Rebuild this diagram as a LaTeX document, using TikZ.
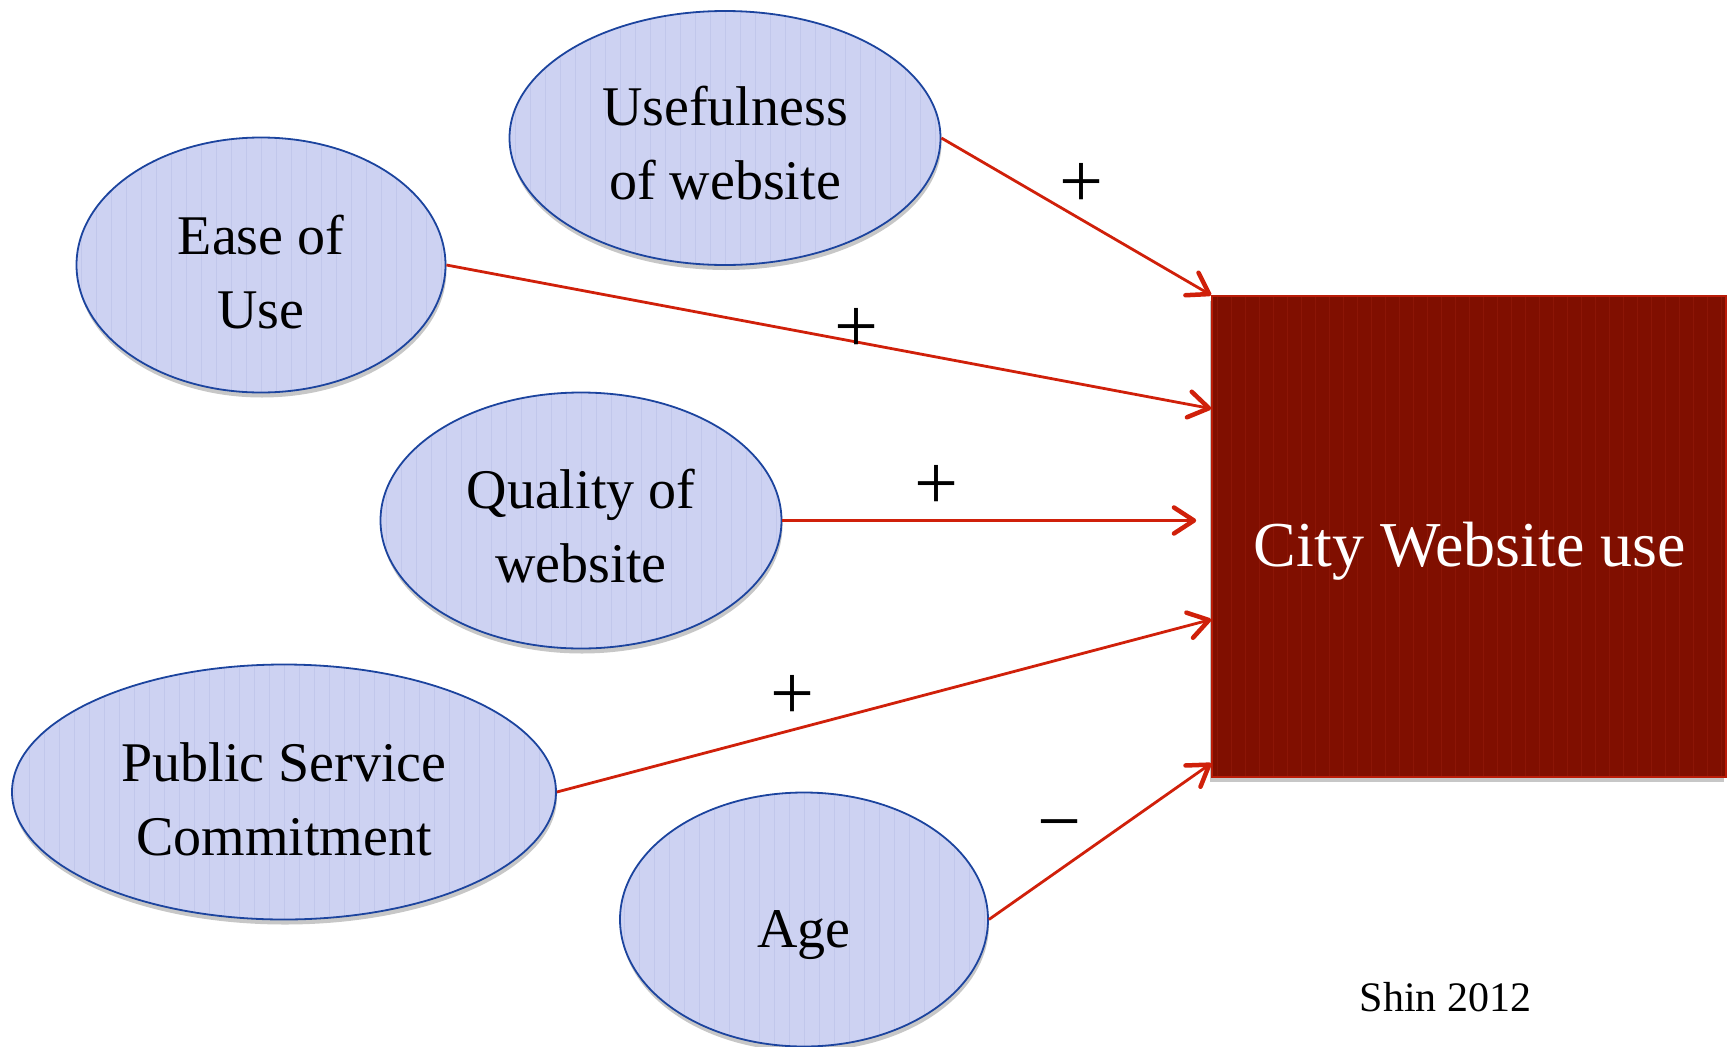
\documentclass[tikz,border=0pt]{standalone}
\usepackage{fontspec}
\setmainfont{Liberation Serif}
\usetikzlibrary{shapes.geometric, arrows.meta, shadows, calc}

\definecolor{ellfill}{RGB}{205,210,242}
\definecolor{ellstripe}{RGB}{193,199,235}
\definecolor{elldraw}{RGB}{28,68,158}
\definecolor{boxfill}{RGB}{128,15,0}
\definecolor{boxstripe}{RGB}{140,22,6}
\definecolor{boxdraw}{RGB}{185,28,8}
\definecolor{arrowred}{RGB}{208,32,10}

\tikzset{
  softshadow/.style={drop shadow={shadow xshift=1pt, shadow yshift=-5pt, opacity=0.22, fill=black}},
  ell/.style={ellipse, draw=elldraw, line width=1.8pt, fill=ellfill, inner sep=0pt,
    softshadow,
    path picture={
      \foreach \k in {-20,...,20}
        \draw[ellstripe, line width=1pt]
          ([xshift=\k*15pt]path picture bounding box.south) --
          ([xshift=\k*15pt]path picture bounding box.north);
    }},
  elltext/.style={align=center, font=\fontsize{56}{74}\selectfont, inner sep=0pt},
  citybox/.style={rectangle, draw=boxdraw, line width=1.6pt, fill=boxfill, inner sep=0pt,
    drop shadow={shadow xshift=-2pt, shadow yshift=-5pt, opacity=0.22, fill=black},
    path picture={
      \foreach \k in {-18,...,18}
        \draw[boxstripe, line width=0.9pt]
          ([xshift=\k*14pt]path picture bounding box.south) --
          ([xshift=\k*14pt]path picture bounding box.north);
    }},
  boxtext/.style={text=white, font=\fontsize{64}{76}\selectfont, inner sep=0pt},
  sign/.style={font=\fontsize{78}{80}\selectfont, inner sep=0pt, text height=0.5em, text depth=0pt},
  conn/.style={draw=arrowred, line width=2.8pt,
    -{Straight Barb[length=20pt, width=26pt, line width=4.5pt, round]}},
}

\begin{document}
\begin{tikzpicture}[x=1pt, y=-1pt]
\path[use as bounding box] (0,0) rectangle (1733,1047);

% outcome box
\node[citybox, minimum width=514pt, minimum height=481pt] (city) at (1469,536.5) {};
\node[boxtext, anchor=base] (citytext) at (1470,566) {City Website use};

% predictors
\node[ell, minimum width=431pt, minimum height=254pt] (use) at (725,138) {};
\node[ell, minimum width=369pt, minimum height=255pt] (ease) at (261,265) {};
\node[ell, minimum width=401pt, minimum height=256pt] (qual) at (581,520.5) {};
\node[ell, minimum width=544pt, minimum height=255pt] (psc) at (284,792) {};
\node[ell, minimum width=368pt, minimum height=254pt] (age) at (804,919.5) {};

\node[elltext] (usetext) at ([yshift=-5pt]use.center) {Usefulness\\of website};
\node[elltext] (easetext) at ([yshift=-7pt]ease.center) {Ease of\\Use};
\node[elltext] (qualtext) at ([yshift=-6pt]qual.center) {Quality of\\website};
\node[elltext] (psctext) at ([yshift=-7pt]psc.center) {Public Service\\Commitment};
\node[elltext, text depth=0pt] (agetext) at ([yshift=-10pt]age.center) {Age};

% arrow end points on the box
\coordinate (easeend) at ($(city.north west)!0.235!(city.south west)$);
\coordinate (qualend) at ($(qual.east -| city.west)+(-15,0)$);
\coordinate (pscend) at ($(city.north west)!0.672!(city.south west)$);
\coordinate (ageend) at ($(city.north west)!0.97!(city.south west)$);

\draw[conn] (use.east) -- (city.north west);
\draw[conn] (ease.east) -- (easeend);
\draw[conn] (qual.east) -- (qualend);
\draw[conn] (psc.east) -- (pscend);
\draw[conn] (age.east) -- (ageend);

% signs of the effects
\node[sign] (s1) at (1081,205) {+};
\node[sign] (s2) at (856,350) {+};
\node[sign] (s3) at (936,507) {+};
\node[sign] (s4) at (792,717) {+};
\node[sign] (s5) at (1059,845) {−};

% source
\node[font=\fontsize{42}{48}\selectfont, inner sep=0pt, anchor=base] (src) at (1445.5,1011) {Shin 2012};
\end{tikzpicture}
\end{document}
